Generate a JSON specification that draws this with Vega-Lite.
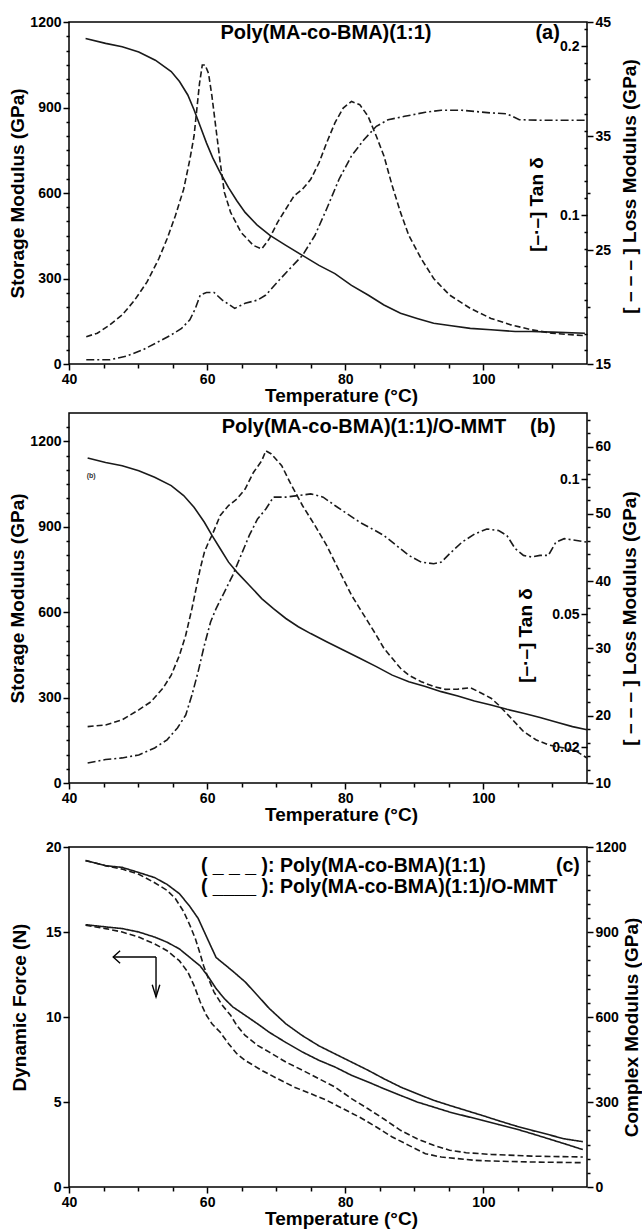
{
  "$schema": "https://vega.github.io/schema/vega-lite/v6.json",
  "padding": {"left": 8, "top": 14, "right": 0, "bottom": 0},
  "background": "white",
  "config": {
    "view": {"stroke": "#000", "strokeWidth": 1.5},
    "font": "Liberation Sans",
    "axis": {"labelFont": "Liberation Sans", "labelFontWeight": "bold", "labelFontSize": 14, "labelColor": "#000", "titleFont": "Liberation Sans", "titleFontWeight": "bold", "titleFontSize": 19, "titleColor": "#000", "tickColor": "#000", "tickWidth": 1.5, "domain": false, "grid": false, "labelOverlap": false, "labelFlush": false, "labelPadding": 2},
    "text": {"font": "Liberation Sans", "fontWeight": "bold", "fontSize": 20, "color": "#000"}
  },
  "datasets": {
    "aS": [{"T":42.4,"v":1142},{"T":45.3,"v":1125},{"T":47.7,"v":1113},{"T":50.1,"v":1095},{"T":52.5,"v":1066},{"T":54.8,"v":1026},{"T":56.0,"v":991},{"T":57.2,"v":944},{"T":58.1,"v":892},{"T":59.0,"v":834},{"T":59.9,"v":776},{"T":60.8,"v":724},{"T":61.9,"v":671},{"T":63.1,"v":619},{"T":64.3,"v":573},{"T":65.5,"v":532},{"T":67.3,"v":486},{"T":69.1,"v":451},{"T":71.4,"v":416},{"T":73.8,"v":381},{"T":76.2,"v":346},{"T":78.5,"v":317},{"T":80.9,"v":276},{"T":83.3,"v":242},{"T":85.6,"v":207},{"T":88.0,"v":178},{"T":90.4,"v":160},{"T":92.8,"v":143},{"T":95.1,"v":135},{"T":98.1,"v":125},{"T":101.1,"v":120},{"T":104.6,"v":114},{"T":107.0,"v":114},{"T":110.0,"v":112},{"T":114.7,"v":108}],
    "aL": [{"T":42.5,"lm":17.40},{"T":44.1,"lm":17.70},{"T":45.9,"lm":18.43},{"T":47.7,"lm":19.30},{"T":49.5,"lm":20.60},{"T":51.3,"lm":22.20},{"T":53.0,"lm":24.23},{"T":54.2,"lm":25.98},{"T":55.4,"lm":28.00},{"T":56.6,"lm":30.33},{"T":57.5,"lm":32.95},{"T":58.1,"lm":34.98},{"T":58.5,"lm":37.30},{"T":58.9,"lm":39.63},{"T":59.3,"lm":41.23},{"T":59.7,"lm":41.23},{"T":60.2,"lm":40.50},{"T":60.7,"lm":38.48},{"T":61.3,"lm":35.55},{"T":61.9,"lm":32.65},{"T":62.5,"lm":30.05},{"T":63.4,"lm":28.30},{"T":64.9,"lm":26.55},{"T":66.7,"lm":25.40},{"T":67.9,"lm":25.10},{"T":69.0,"lm":25.98},{"T":70.2,"lm":27.43},{"T":71.4,"lm":28.60},{"T":72.6,"lm":29.75},{"T":73.8,"lm":30.33},{"T":75.0,"lm":31.20},{"T":76.2,"lm":32.65},{"T":77.3,"lm":34.40},{"T":78.5,"lm":36.15},{"T":79.7,"lm":37.45},{"T":80.9,"lm":38.03},{"T":82.1,"lm":37.75},{"T":83.3,"lm":36.73},{"T":84.5,"lm":34.98},{"T":85.6,"lm":33.25},{"T":86.8,"lm":30.63},{"T":88.0,"lm":28.30},{"T":89.2,"lm":26.28},{"T":91.0,"lm":24.23},{"T":92.8,"lm":22.50},{"T":95.1,"lm":21.05},{"T":98.1,"lm":19.88},{"T":101.1,"lm":19.00},{"T":104.0,"lm":18.43},{"T":107.0,"lm":18.00},{"T":109.9,"lm":17.70},{"T":114.7,"lm":17.48}],
    "aD": [{"T":42.5,"td":0.0145},{"T":45.9,"td":0.0145},{"T":48.3,"td":0.0166},{"T":50.7,"td":0.0204},{"T":53.0,"td":0.0253},{"T":54.8,"td":0.0292},{"T":56.3,"td":0.0331},{"T":57.5,"td":0.0381},{"T":58.3,"td":0.0449},{"T":59.0,"td":0.0528},{"T":59.9,"td":0.0543},{"T":61.0,"td":0.0543},{"T":62.2,"td":0.0498},{"T":64.0,"td":0.0449},{"T":65.5,"td":0.0479},{"T":67.3,"td":0.0498},{"T":68.5,"td":0.0528},{"T":70.2,"td":0.0606},{"T":72.0,"td":0.0685},{"T":73.8,"td":0.0762},{"T":75.6,"td":0.0880},{"T":77.3,"td":0.1037},{"T":79.1,"td":0.1213},{"T":80.9,"td":0.1351},{"T":82.7,"td":0.1447},{"T":84.5,"td":0.1526},{"T":86.2,"td":0.1565},{"T":88.6,"td":0.1585},{"T":91.6,"td":0.1609},{"T":93.9,"td":0.1621},{"T":96.9,"td":0.1621},{"T":101.1,"td":0.1605},{"T":103.4,"td":0.1600},{"T":105.2,"td":0.1565},{"T":108.2,"td":0.1562},{"T":114.7,"td":0.1562}],
    "bS": [{"T":42.7,"v":1142},{"T":45.3,"v":1126},{"T":47.7,"v":1115},{"T":50.1,"v":1097},{"T":52.4,"v":1074},{"T":54.8,"v":1045},{"T":56.6,"v":1010},{"T":58.1,"v":969},{"T":59.6,"v":916},{"T":60.7,"v":870},{"T":61.9,"v":823},{"T":63.1,"v":776},{"T":64.3,"v":741},{"T":66.1,"v":695},{"T":67.9,"v":648},{"T":69.6,"v":613},{"T":71.4,"v":578},{"T":73.2,"v":549},{"T":75.0,"v":525},{"T":77.3,"v":496},{"T":79.7,"v":467},{"T":82.1,"v":438},{"T":84.5,"v":409},{"T":86.8,"v":379},{"T":89.2,"v":356},{"T":91.6,"v":339},{"T":93.9,"v":321},{"T":96.3,"v":306},{"T":98.7,"v":288},{"T":101.1,"v":274},{"T":103.4,"v":259},{"T":105.8,"v":245},{"T":108.2,"v":230},{"T":110.5,"v":214},{"T":112.9,"v":198},{"T":115.0,"v":187}],
    "bL": [{"T":42.7,"lm":18.38},{"T":45.3,"lm":18.63},{"T":47.7,"lm":19.39},{"T":50.1,"lm":20.87},{"T":51.9,"lm":22.10},{"T":53.6,"lm":24.09},{"T":54.8,"lm":26.03},{"T":56.0,"lm":29.00},{"T":56.9,"lm":31.96},{"T":57.8,"lm":35.93},{"T":58.4,"lm":38.90},{"T":59.0,"lm":41.86},{"T":59.6,"lm":44.31},{"T":60.2,"lm":45.79},{"T":60.7,"lm":46.81},{"T":61.9,"lm":49.77},{"T":63.1,"lm":51.25},{"T":64.3,"lm":52.22},{"T":65.5,"lm":53.70},{"T":66.7,"lm":56.16},{"T":67.9,"lm":57.89},{"T":68.5,"lm":59.37},{"T":69.3,"lm":58.91},{"T":70.8,"lm":57.17},{"T":72.0,"lm":54.68},{"T":73.8,"lm":51.25},{"T":75.6,"lm":48.29},{"T":77.3,"lm":45.33},{"T":78.5,"lm":42.83},{"T":79.7,"lm":40.38},{"T":80.9,"lm":37.92},{"T":82.1,"lm":35.93},{"T":83.3,"lm":33.95},{"T":84.5,"lm":31.96},{"T":85.6,"lm":30.01},{"T":86.8,"lm":28.53},{"T":88.0,"lm":27.05},{"T":89.2,"lm":26.03},{"T":91.0,"lm":25.06},{"T":92.8,"lm":24.34},{"T":94.5,"lm":23.92},{"T":96.3,"lm":23.96},{"T":98.1,"lm":24.17},{"T":99.3,"lm":23.58},{"T":101.1,"lm":22.61},{"T":102.2,"lm":21.59},{"T":104.0,"lm":19.65},{"T":105.8,"lm":17.66},{"T":107.6,"lm":16.43},{"T":109.4,"lm":15.67},{"T":111.7,"lm":15.20},{"T":113.5,"lm":14.70},{"T":115.0,"lm":13.72}],
    "bD": [{"T":42.7,"td":-0.0052},{"T":45.3,"td":-0.0039},{"T":47.7,"td":-0.0033},{"T":50.1,"td":-0.0022},{"T":52.4,"td":0.0004},{"T":54.2,"td":0.0034},{"T":55.7,"td":0.0078},{"T":56.9,"td":0.0126},{"T":57.8,"td":0.0200},{"T":58.7,"td":0.0287},{"T":59.6,"td":0.0385},{"T":60.5,"td":0.0471},{"T":61.3,"td":0.0521},{"T":62.5,"td":0.0582},{"T":63.7,"td":0.0644},{"T":64.9,"td":0.0718},{"T":66.1,"td":0.0792},{"T":67.3,"td":0.0853},{"T":68.5,"td":0.0890},{"T":69.6,"td":0.0934},{"T":71.4,"td":0.0934},{"T":73.2,"td":0.0940},{"T":75.0,"td":0.0946},{"T":76.8,"td":0.0934},{"T":78.5,"td":0.0903},{"T":80.3,"td":0.0872},{"T":82.1,"td":0.0841},{"T":83.9,"td":0.0816},{"T":85.6,"td":0.0792},{"T":87.4,"td":0.0755},{"T":89.2,"td":0.0718},{"T":91.0,"td":0.0693},{"T":92.8,"td":0.0687},{"T":93.9,"td":0.0693},{"T":95.1,"td":0.0724},{"T":96.9,"td":0.0767},{"T":98.7,"td":0.0797},{"T":100.5,"td":0.0816},{"T":102.2,"td":0.0810},{"T":103.4,"td":0.0792},{"T":104.6,"td":0.0743},{"T":105.8,"td":0.0718},{"T":107.0,"td":0.0712},{"T":108.2,"td":0.0718},{"T":109.4,"td":0.0718},{"T":110.5,"td":0.0767},{"T":111.7,"td":0.0780},{"T":113.5,"td":0.0773},{"T":115.0,"td":0.0767}],
    "cF": [{"s":"ommt","T":42.4,"F":15.43},{"s":"ommt","T":45.3,"F":15.3},{"s":"ommt","T":47.7,"F":15.2},{"s":"ommt","T":50.1,"F":15.0},{"s":"ommt","T":52.4,"F":14.7},{"s":"ommt","T":54.2,"F":14.4},{"s":"ommt","T":56.0,"F":14.0},{"s":"ommt","T":57.8,"F":13.4},{"s":"ommt","T":59.0,"F":13.0},{"s":"ommt","T":60.2,"F":12.35},{"s":"ommt","T":61.3,"F":11.67},{"s":"ommt","T":62.5,"F":11.08},{"s":"ommt","T":63.7,"F":10.6},{"s":"ommt","T":65.5,"F":10.1},{"s":"ommt","T":67.3,"F":9.6},{"s":"ommt","T":69.0,"F":9.1},{"s":"ommt","T":71.4,"F":8.5},{"s":"ommt","T":73.8,"F":7.94},{"s":"ommt","T":76.2,"F":7.45},{"s":"ommt","T":78.5,"F":7.06},{"s":"ommt","T":80.9,"F":6.57},{"s":"ommt","T":83.3,"F":6.18},{"s":"ommt","T":85.6,"F":5.78},{"s":"ommt","T":88.0,"F":5.39},{"s":"ommt","T":90.4,"F":5.0},{"s":"ommt","T":92.8,"F":4.7},{"s":"ommt","T":95.1,"F":4.41},{"s":"ommt","T":97.5,"F":4.16},{"s":"ommt","T":99.9,"F":3.92},{"s":"ommt","T":102.2,"F":3.67},{"s":"ommt","T":104.6,"F":3.43},{"s":"ommt","T":107.0,"F":3.14},{"s":"ommt","T":109.4,"F":2.84},{"s":"ommt","T":111.7,"F":2.55},{"s":"ommt","T":114.4,"F":2.2},
      {"s":"poly","T":42.4,"F":15.4},{"s":"poly","T":45.3,"F":15.2},{"s":"poly","T":47.7,"F":15.0},{"s":"poly","T":50.1,"F":14.7},{"s":"poly","T":52.4,"F":14.3},{"s":"poly","T":54.2,"F":13.9},{"s":"poly","T":56.0,"F":13.3},{"s":"poly","T":57.2,"F":12.65},{"s":"poly","T":58.1,"F":11.86},{"s":"poly","T":59.0,"F":10.88},{"s":"poly","T":59.9,"F":10.1},{"s":"poly","T":60.7,"F":9.6},{"s":"poly","T":61.9,"F":9.1},{"s":"poly","T":63.1,"F":8.43},{"s":"poly","T":64.3,"F":7.84},{"s":"poly","T":65.5,"F":7.45},{"s":"poly","T":67.9,"F":6.86},{"s":"poly","T":70.2,"F":6.37},{"s":"poly","T":72.6,"F":5.88},{"s":"poly","T":75.0,"F":5.49},{"s":"poly","T":77.3,"F":5.1},{"s":"poly","T":79.7,"F":4.6},{"s":"poly","T":82.1,"F":4.1},{"s":"poly","T":84.5,"F":3.53},{"s":"poly","T":86.8,"F":2.94},{"s":"poly","T":89.2,"F":2.45},{"s":"poly","T":91.6,"F":1.96},{"s":"poly","T":93.9,"F":1.76},{"s":"poly","T":96.3,"F":1.67},{"s":"poly","T":98.7,"F":1.57},{"s":"poly","T":101.1,"F":1.53},{"s":"poly","T":107.0,"F":1.47},{"s":"poly","T":114.4,"F":1.43}],
    "cM": [{"s":"ommt","T":42.4,"cm":1152},{"s":"ommt","T":45.3,"cm":1134},{"s":"ommt","T":47.7,"cm":1128},{"s":"ommt","T":50.1,"cm":1110},{"s":"ommt","T":52.4,"cm":1092},{"s":"ommt","T":54.2,"cm":1068},{"s":"ommt","T":56.0,"cm":1035},{"s":"ommt","T":57.5,"cm":990},{"s":"ommt","T":58.7,"cm":948},{"s":"ommt","T":59.6,"cm":900},{"s":"ommt","T":60.5,"cm":852},{"s":"ommt","T":61.3,"cm":810},{"s":"ommt","T":62.5,"cm":786},{"s":"ommt","T":63.7,"cm":762},{"s":"ommt","T":65.5,"cm":724},{"s":"ommt","T":67.3,"cm":676},{"s":"ommt","T":69.0,"cm":630},{"s":"ommt","T":71.4,"cm":576},{"s":"ommt","T":73.8,"cm":534},{"s":"ommt","T":76.2,"cm":498},{"s":"ommt","T":78.5,"cm":470},{"s":"ommt","T":80.9,"cm":441},{"s":"ommt","T":83.3,"cm":412},{"s":"ommt","T":85.6,"cm":382},{"s":"ommt","T":88.0,"cm":353},{"s":"ommt","T":90.4,"cm":329},{"s":"ommt","T":92.8,"cm":306},{"s":"ommt","T":95.1,"cm":288},{"s":"ommt","T":97.5,"cm":270},{"s":"ommt","T":99.9,"cm":252},{"s":"ommt","T":102.2,"cm":234},{"s":"ommt","T":104.6,"cm":216},{"s":"ommt","T":107.0,"cm":200},{"s":"ommt","T":109.4,"cm":185},{"s":"ommt","T":111.7,"cm":170},{"s":"ommt","T":114.4,"cm":160},
      {"s":"poly","T":42.4,"cm":1152},{"s":"poly","T":45.3,"cm":1134},{"s":"poly","T":47.7,"cm":1122},{"s":"poly","T":50.1,"cm":1104},{"s":"poly","T":52.4,"cm":1074},{"s":"poly","T":54.2,"cm":1047},{"s":"poly","T":55.4,"cm":1018},{"s":"poly","T":56.6,"cm":972},{"s":"poly","T":57.5,"cm":924},{"s":"poly","T":58.3,"cm":876},{"s":"poly","T":59.0,"cm":822},{"s":"poly","T":59.5,"cm":780},{"s":"poly","T":60.2,"cm":735},{"s":"poly","T":61.0,"cm":688},{"s":"poly","T":62.2,"cm":641},{"s":"poly","T":63.4,"cm":606},{"s":"poly","T":64.3,"cm":570},{"s":"poly","T":65.5,"cm":535},{"s":"poly","T":67.3,"cm":500},{"s":"poly","T":69.0,"cm":476},{"s":"poly","T":71.4,"cm":441},{"s":"poly","T":73.8,"cm":412},{"s":"poly","T":76.2,"cm":382},{"s":"poly","T":78.5,"cm":353},{"s":"poly","T":80.9,"cm":312},{"s":"poly","T":83.3,"cm":276},{"s":"poly","T":85.6,"cm":240},{"s":"poly","T":88.0,"cm":200},{"s":"poly","T":90.4,"cm":170},{"s":"poly","T":92.8,"cm":147},{"s":"poly","T":95.1,"cm":130},{"s":"poly","T":97.5,"cm":121},{"s":"poly","T":101.1,"cm":115},{"s":"poly","T":107.0,"cm":109},{"s":"poly","T":114.4,"cm":106}],
    "arrow": [{"seg":"h","o":1,"T":52.6,"F":13.53},{"seg":"h","o":2,"T":46.4,"F":13.53},{"seg":"v","o":1,"T":52.6,"F":13.53},{"seg":"v","o":2,"T":52.6,"F":11.18},{"seg":"hl","o":1,"T":47.4,"F":13.9},{"seg":"hl","o":2,"T":46.4,"F":13.53},{"seg":"hl","o":3,"T":47.4,"F":13.16},{"seg":"vd","o":1,"T":52.05,"F":11.9},{"seg":"vd","o":2,"T":52.6,"F":11.18},{"seg":"vd","o":3,"T":53.15,"F":11.9}]
  },
  "spacing": 5,
  "vconcat": [
    {
      "width": 518, "height": 342,
      "resolve": {"scale": {"y": "independent"}, "axis": {"x": "independent"}},
      "layer": [
        {
          "data": {"name": "aS"},
          "mark": {"type": "line", "color": "#1a1a1a", "strokeWidth": 1.6},
          "encoding": {
            "x": {"field": "T", "type": "quantitative", "scale": {"domain": [40, 115], "nice": false, "zero": false},
              "axis": {"title": "Temperature (°C)", "values": [40,45,50,55,60,65,70,75,80,85,90,95,100,105,110], "labelExpr": "datum.value % 20 === 0 ? datum.label : ''", "tickSize": {"condition": {"test": "datum.value % 20 === 0", "value": 6}, "value": 4}, "titlePadding": 0, "titleX": 272}},
            "y": {"field": "v", "type": "quantitative", "scale": {"domain": [0, 1200], "nice": false},
              "axis": {"orient": "left", "title": "Storage Modulus (GPa)", "format": "d", "values": [0,50,100,150,200,250,300,350,400,450,500,550,600,650,700,750,800,850,900,950,1000,1050,1100,1150,1200], "labelExpr": "datum.value % 300 === 0 ? datum.label : ''", "tickSize": {"condition": {"test": "datum.value % 300 === 0", "value": 6}, "value": 3}, "titlePadding": 2}}
          }
        },
        {
          "data": {"name": "aL"},
          "mark": {"type": "line", "color": "#1a1a1a", "strokeWidth": 1.6, "strokeDash": [6, 3]},
          "encoding": {
            "x": {"field": "T", "type": "quantitative", "scale": {"domain": [40, 115], "nice": false, "zero": false}, "axis": null},
            "y": {"field": "lm", "type": "quantitative", "scale": {"domain": [15, 45], "nice": false, "zero": false},
              "axis": {"orient": "right", "title": "[ – – – ]  Loss Modulus (GPa)", "titleAngle": 270, "titleBaseline": "top", "values": [15,20,25,30,35,40,45], "labelExpr": "datum.value % 10 === 5 ? datum.label : ''", "tickSize": {"condition": {"test": "datum.value % 10 === 5", "value": 6}, "value": 3}, "titlePadding": 10, "titleY": 164}}
          }
        },
        {
          "data": {"name": "aD"},
          "mark": {"type": "line", "color": "#1a1a1a", "strokeWidth": 1.6, "strokeDash": [8, 3, 2, 3]},
          "encoding": {
            "x": {"field": "T", "type": "quantitative", "scale": {"domain": [40, 115], "nice": false, "zero": false}, "axis": null},
            "y": {"field": "td", "type": "quantitative", "scale": {"domain": [0.012, 0.2143], "nice": false, "zero": false},
              "axis": {"orient": "left", "offset": -518, "title": "[–·–] Tan δ", "format": "~g", "values": [0.02,0.03,0.04,0.05,0.06,0.07,0.08,0.09,0.1,0.11,0.12,0.13,0.14,0.15,0.16,0.17,0.18,0.19,0.2,0.21], "labelExpr": "(datum.value === 0.1 || datum.value === 0.2) ? datum.label : ''", "tickSize": {"condition": {"test": "datum.value === 0.1 || datum.value === 0.2", "value": 6}, "value": 3}, "titlePadding": 13, "titleY": 182}}
          }
        },
        {
          "data": {"values": [{"T": 77.2, "v": 1161, "label": "Poly(MA-co-BMA)(1:1)"}, {"T": 109.3, "v": 1161, "label": "(a)"}]},
          "mark": {"type": "text", "align": "center", "baseline": "middle"},
          "encoding": {
            "x": {"field": "T", "type": "quantitative", "scale": {"domain": [40, 115], "nice": false, "zero": false}, "axis": null},
            "y": {"field": "v", "type": "quantitative", "scale": {"domain": [0, 1200], "nice": false}, "axis": null},
            "text": {"field": "label"}
          }
        }
      ]
    },
    {
      "spacing": 14,
      "vconcat": [
        {
          "width": 518, "height": 370,
          "resolve": {"scale": {"y": "independent"}, "axis": {"x": "independent"}},
          "layer": [
            {
              "data": {"name": "bS"},
              "mark": {"type": "line", "color": "#1a1a1a", "strokeWidth": 1.6},
              "encoding": {
                "x": {"field": "T", "type": "quantitative", "scale": {"domain": [40, 115], "nice": false, "zero": false},
                  "axis": {"title": "Temperature (°C)", "values": [40,45,50,55,60,65,70,75,80,85,90,95,100,105,110], "labelExpr": "datum.value % 20 === 0 ? datum.label : ''", "tickSize": {"condition": {"test": "datum.value % 20 === 0", "value": 6}, "value": 4}, "titlePadding": 0, "titleX": 272}},
                "y": {"field": "v", "type": "quantitative", "scale": {"domain": [0, 1300], "nice": false},
                  "axis": {"orient": "left", "title": "Storage Modulus (GPa)", "format": "d", "values": [0,50,100,150,200,250,300,350,400,450,500,550,600,650,700,750,800,850,900,950,1000,1050,1100,1150,1200,1250], "labelExpr": "datum.value % 300 === 0 ? datum.label : ''", "tickSize": {"condition": {"test": "datum.value % 300 === 0", "value": 6}, "value": 3}, "titlePadding": 2}}
              }
            },
            {
              "data": {"name": "bL"},
              "mark": {"type": "line", "color": "#1a1a1a", "strokeWidth": 1.6, "strokeDash": [6, 3]},
              "encoding": {
                "x": {"field": "T", "type": "quantitative", "scale": {"domain": [40, 115], "nice": false, "zero": false}, "axis": null},
                "y": {"field": "lm", "type": "quantitative", "scale": {"domain": [10, 65], "nice": false, "zero": false},
                  "axis": {"orient": "right", "title": "[ – – – ]  Loss Modulus (GPa)", "titleAngle": 270, "titleBaseline": "top", "values": [10,12,14,16,18,20,22,24,26,28,30,32,34,36,38,40,42,44,46,48,50,52,54,56,58,60,62,64], "labelExpr": "datum.value % 10 === 0 ? datum.label : ''", "tickSize": {"condition": {"test": "datum.value % 10 === 0", "value": 6}, "value": 3}, "titlePadding": 10, "titleY": 205}}
              }
            },
            {
              "data": {"name": "bD"},
              "mark": {"type": "line", "color": "#1a1a1a", "strokeWidth": 1.6, "strokeDash": [8, 3, 2, 3]},
              "encoding": {
                "x": {"field": "T", "type": "quantitative", "scale": {"domain": [40, 115], "nice": false, "zero": false}, "axis": null},
                "y": {"field": "td", "type": "quantitative", "scale": {"domain": [-0.0126, 0.1246], "nice": false, "zero": false},
                  "axis": {"orient": "left", "offset": -518, "title": "[–·–] Tan δ", "format": "~g", "values": [0.1, 0.05, 0.0007], "labelExpr": "datum.value < 0.01 ? '0.02' : datum.label", "tickSize": 6, "titlePadding": 16, "titleY": 222}}
              }
            },
            {
              "data": {"values": [{"T": 82.7, "v": 1251, "label": "Poly(MA-co-BMA)(1:1)/O-MMT"}, {"T": 108.6, "v": 1251, "label": "(b)"}]},
              "mark": {"type": "text", "align": "center", "baseline": "middle"},
              "encoding": {
                "x": {"field": "T", "type": "quantitative", "scale": {"domain": [40, 115], "nice": false, "zero": false}, "axis": null},
                "y": {"field": "v", "type": "quantitative", "scale": {"domain": [0, 1300], "nice": false}, "axis": null},
                "text": {"field": "label"}
              }
            },
            {
              "data": {"values": [{"T": 43.2, "v": 1079, "label": "(b)"}]},
              "mark": {"type": "text", "align": "center", "baseline": "middle", "fontSize": 7, "color": "#333"},
              "encoding": {
                "x": {"field": "T", "type": "quantitative", "scale": {"domain": [40, 115], "nice": false, "zero": false}, "axis": null},
                "y": {"field": "v", "type": "quantitative", "scale": {"domain": [0, 1300], "nice": false}, "axis": null},
                "text": {"field": "label"}
              }
            }
          ]
        },
        {
          "width": 518, "height": 340,
          "resolve": {"scale": {"y": "independent"}, "axis": {"x": "independent"}},
          "layer": [
            {
              "data": {"name": "cF"},
              "mark": {"type": "line", "color": "#1a1a1a", "strokeWidth": 1.6},
              "encoding": {
                "x": {"field": "T", "type": "quantitative", "scale": {"domain": [40, 115], "nice": false, "zero": false},
                  "axis": {"title": "Temperature (°C)", "values": [40,45,50,55,60,65,70,75,80,85,90,95,100,105,110], "labelExpr": "datum.value % 20 === 0 ? datum.label : ''", "tickSize": {"condition": {"test": "datum.value % 20 === 0", "value": 6}, "value": 4}, "titlePadding": 0, "titleX": 272}},
                "y": {"field": "F", "type": "quantitative", "scale": {"domain": [0, 20], "nice": false},
                  "axis": {"orient": "left", "title": "Dynamic Force (N)", "values": [0,5,10,15,20], "tickSize": 6, "titlePadding": 16, "titleY": 160}},
                "detail": {"field": "s"},
                "strokeDash": {"field": "s", "type": "nominal", "scale": {"domain": ["poly", "ommt"], "range": [[6, 3], [1, 0]]}, "legend": null}
              }
            },
            {
              "data": {"name": "cM"},
              "mark": {"type": "line", "color": "#1a1a1a", "strokeWidth": 1.6},
              "encoding": {
                "x": {"field": "T", "type": "quantitative", "scale": {"domain": [40, 115], "nice": false, "zero": false}, "axis": null},
                "y": {"field": "cm", "type": "quantitative", "scale": {"domain": [0, 1200], "nice": false},
                  "axis": {"orient": "right", "title": "Complex Modulus (GPa)", "titleAngle": 270, "titleBaseline": "top", "format": "d", "values": [0,50,100,150,200,250,300,350,400,450,500,550,600,650,700,750,800,850,900,950,1000,1050,1100,1150,1200], "labelExpr": "datum.value % 300 === 0 ? datum.label : ''", "tickSize": {"condition": {"test": "datum.value % 300 === 0", "value": 6}, "value": 3}, "titlePadding": -4, "titleY": 180}},
                "detail": {"field": "s"},
                "strokeDash": {"field": "s", "type": "nominal", "scale": {"domain": ["poly", "ommt"], "range": [[6, 3], [1, 0]]}, "legend": null}
              }
            },
            {
              "data": {"values": [{"T": 59.1, "F": 18.88, "label": "( _ _ _ ): Poly(MA-co-BMA)(1:1)"}, {"T": 59.1, "F": 17.65, "label": "( ____ ): Poly(MA-co-BMA)(1:1)/O-MMT"}, {"T": 110.5, "F": 18.88, "label": "(c)"}]},
              "mark": {"type": "text", "align": "left", "baseline": "middle", "fontSize": 19.5},
              "encoding": {
                "x": {"field": "T", "type": "quantitative", "scale": {"domain": [40, 115], "nice": false, "zero": false}, "axis": null},
                "y": {"field": "F", "type": "quantitative", "scale": {"domain": [0, 20], "nice": false}, "axis": null},
                "text": {"field": "label"}
              }
            },
            {
              "data": {"name": "arrow"},
              "mark": {"type": "line", "color": "#000", "strokeWidth": 1.4},
              "encoding": {
                "x": {"field": "T", "type": "quantitative", "scale": {"domain": [40, 115], "nice": false, "zero": false}, "axis": null},
                "y": {"field": "F", "type": "quantitative", "scale": {"domain": [0, 20], "nice": false}, "axis": null},
                "detail": {"field": "seg"},
                "order": {"field": "o"}
              }
            }
          ]
        }
      ]
    }
  ]
}
